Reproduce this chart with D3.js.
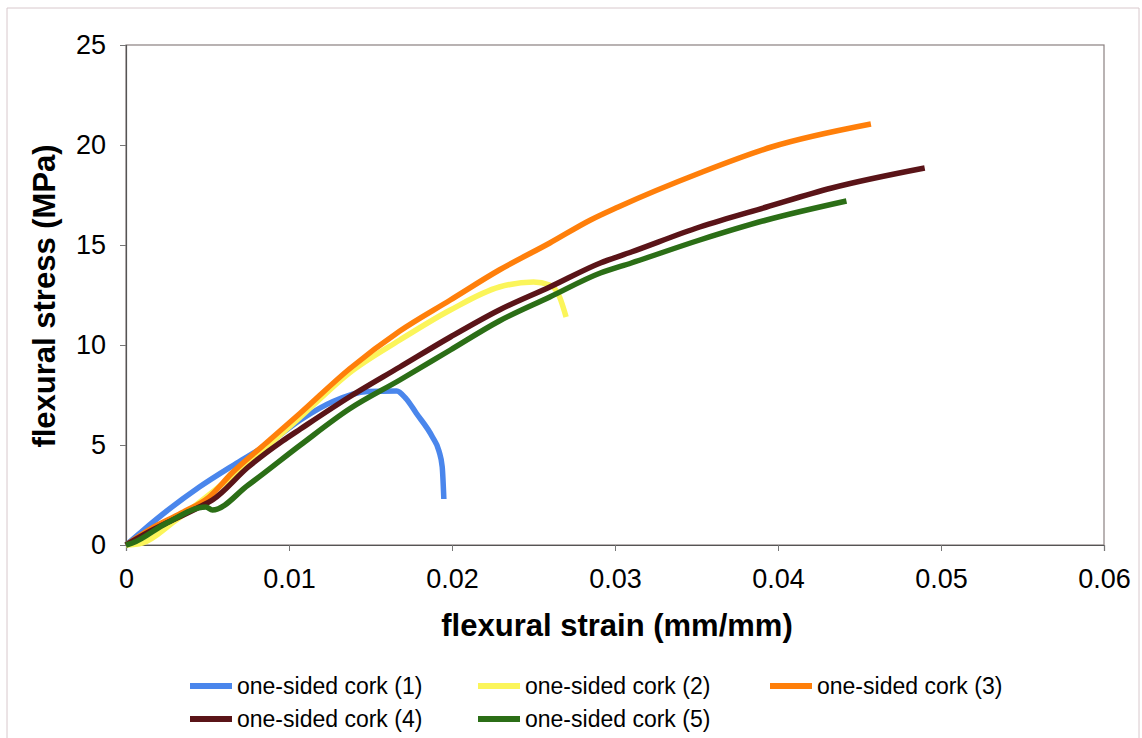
<!DOCTYPE html>
<html>
<head>
<meta charset="utf-8">
<script src="https://cdn.jsdelivr.net/npm/d3@7"></script>
<style>
  body { margin: 0; background: #fff; }
  text { font-family: "Liberation Sans", Arial, sans-serif; fill: #000; }
</style>
</head>
<body>
<svg id="chart" width="1142" height="738"></svg>
<script>
// series names and colours
const seriesNames = ["one-sided cork (1)", "one-sided cork (2)", "one-sided cork (3)", "one-sided cork (4)", "one-sided cork (5)"];
const seriesColors = ["#4a86ec", "#fbf55a", "#ff7f0a", "#5a1418", "#2b6e16"];

// strain (mm/mm), stress (MPa)
const cork1Strain = [0, 0.001, 0.0025, 0.0045, 0.0068, 0.0086, 0.0107, 0.0127, 0.0148, 0.0166, 0.0172, 0.0178, 0.0188, 0.0192, 0.0194, 0.0195];
const cork1Stress = [0, 0.7, 1.7, 2.9, 4.1, 5.0, 6.25, 7.17, 7.67, 7.7, 7.3, 6.6, 5.4, 4.7, 3.9, 2.3];

const cork2Strain = [0, 0.001, 0.003, 0.006, 0.0107, 0.0137, 0.0168, 0.0199, 0.0229, 0.025, 0.026, 0.0266, 0.027];
const cork2Stress = [0, 0.1, 1.2, 3.1, 6.4, 8.6, 10.25, 11.75, 12.9, 13.15, 13.0, 12.4, 11.4];

const cork3Strain = [0, 0.0014, 0.0034, 0.0051, 0.0065, 0.0086, 0.0107, 0.0137, 0.0168, 0.0199, 0.0229, 0.026, 0.0285, 0.0302, 0.0352, 0.0396, 0.0457];
const cork3Stress = [0, 0.75, 1.6, 2.4, 3.6, 5.1, 6.6, 8.8, 10.7, 12.25, 13.75, 15.1, 16.25, 16.9, 18.6, 19.9, 21.05];

const cork4Strain = [0, 0.0014, 0.0045, 0.0053, 0.0075, 0.0096, 0.0107, 0.0137, 0.0168, 0.0199, 0.0229, 0.026, 0.0291, 0.031, 0.0352, 0.0393, 0.0433, 0.049];
const cork4Stress = [0, 0.65, 1.9, 2.25, 3.9, 5.2, 5.8, 7.4, 8.9, 10.4, 11.75, 12.9, 14.1, 14.65, 15.9, 16.9, 17.85, 18.85];

const cork5Strain = [0, 0.0004, 0.0025, 0.0049, 0.0053, 0.0075, 0.0107, 0.0137, 0.0168, 0.0199, 0.0229, 0.026, 0.0291, 0.031, 0.0352, 0.0393, 0.0442];
const cork5Stress = [0, 0.1, 1.1, 1.9, 1.75, 3.0, 5.0, 6.8, 8.25, 9.75, 11.2, 12.4, 13.6, 14.1, 15.25, 16.25, 17.2];

const xTicks = [0, 0.01, 0.02, 0.03, 0.04, 0.05, 0.06];
const yTicks = [0, 5, 10, 15, 20, 25];

const allStrain = [cork1Strain, cork2Strain, cork3Strain, cork4Strain, cork5Strain];
const allStress = [cork1Stress, cork2Stress, cork3Stress, cork4Stress, cork5Stress];

const series = seriesNames.map((name, i) => ({
  name: name,
  color: seriesColors[i],
  points: allStrain[i].map((x, j) => [x, allStress[i][j]])
}));

const svg = d3.select("#chart");

// plot area
const plotLeft = 126, plotRight = 1104, plotTop = 45, plotBottom = 545;

// faint scan border
svg.append("path")
  .attr("d", "M7,745 L7,8 L1139,8 L1139,745")
  .attr("fill", "none")
  .attr("stroke", "#d8c8cc")
  .attr("stroke-width", 1);

let xScale = d3.scaleLinear().domain([0, 0.06]).range([plotLeft, plotRight]);
let yScale = d3.scaleLinear().domain([0, 25]).range([plotBottom, plotTop]);

// frame
svg.append("rect")
  .attr("x", plotLeft).attr("y", plotTop)
  .attr("width", plotRight - plotLeft).attr("height", plotBottom - plotTop)
  .attr("fill", "none")
  .attr("stroke", "#8a8080")
  .attr("stroke-width", 1.2);

// axes
let xAxis = d3.axisBottom(xScale)
  .tickValues(xTicks)
  .tickSize(6)
  .tickPadding(18)
  .tickFormat(d => d === 0 ? "0" : d3.format(".2f")(d));

let gx = svg.append("g")
  .attr("transform", "translate(0," + plotBottom + ")")
  .call(xAxis);

let yAxis = d3.axisLeft(yScale)
  .tickValues(yTicks)
  .tickSize(6)
  .tickPadding(14)
  .tickFormat(d3.format("d"));

let gy = svg.append("g")
  .attr("transform", "translate(" + plotLeft + ",0)")
  .call(yAxis);

[gx, gy].forEach(g => {
  g.select(".domain").attr("stroke", "#555").attr("stroke-width", 1.2);
  g.selectAll(".tick line").attr("stroke", "#777");
  g.selectAll(".tick text")
    .attr("font-size", 27)
    .attr("font-family", "Liberation Sans, Arial, sans-serif")
    .attr("fill", "#000");
});

// curves, drawn in series order like the original
let line = d3.line()
  .x(d => xScale(d[0]))
  .y(d => yScale(d[1]))
  .curve(d3.curveMonotoneX);

svg.append("g")
  .selectAll("path")
  .data(series)
  .join("path")
  .attr("d", d => line(d.points))
  .attr("fill", "none")
  .attr("stroke", d => d.color)
  .attr("stroke-width", 5.5)
  .attr("stroke-linejoin", "round")
  .attr("stroke-linecap", "butt");

// axis titles
svg.append("text")
  .attr("x", 617)
  .attr("y", 636)
  .attr("text-anchor", "middle")
  .attr("font-size", 31)
  .attr("font-weight", "bold")
  .text("flexural strain (mm/mm)");

svg.append("text")
  .attr("transform", "translate(55,296) rotate(-90)")
  .attr("text-anchor", "middle")
  .attr("font-size", 31)
  .attr("font-weight", "bold")
  .text("flexural stress (MPa)");

// legend: 3 columns, 2 rows
const legendCols = [190, 478, 770];
const legendRows = [686, 719];

let legend = svg.append("g")
  .selectAll("g")
  .data(series)
  .join("g")
  .attr("transform", (d, i) => "translate(" + legendCols[i % 3] + "," + legendRows[Math.floor(i / 3)] + ")");

legend.append("rect")
  .attr("x", 0).attr("y", -3)
  .attr("width", 42).attr("height", 6)
  .attr("fill", d => d.color);

legend.append("text")
  .attr("x", 47)
  .attr("y", 8)
  .attr("font-size", 23)
  .text(d => d.name);
</script>
</body>
</html>
